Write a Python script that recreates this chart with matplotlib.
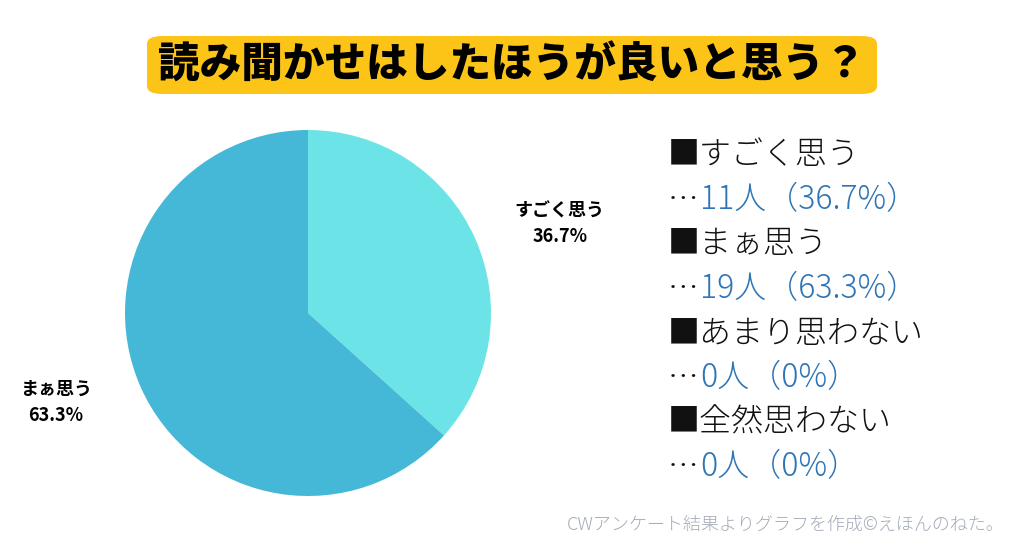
import numpy as np
import matplotlib.pyplot as plt
from matplotlib.patches import FancyBboxPatch

plt.rcParams['font.family'] = ['Noto Sans CJK JP', 'DejaVu Sans']

title = "読み聞かせはしたほうが良いと思う？"
categories = ["すごく思う", "まぁ思う", "あまり思わない", "全然思わない"]
counts = [11, 19, 0, 0]
percents = [36.7, 63.3, 0, 0]
slice_colors = ["#6ce4e7", "#46b8d7"]
footer = "CWアンケート結果よりグラフを作成©えほんのねた。"

fig = plt.figure(figsize=(10.24, 5.38), dpi=100)
fig.patch.set_facecolor("white")

# title box
box = FancyBboxPatch((147 / 1024, 1 - 94 / 538), (877 - 147) / 1024, 58 / 538,
                     boxstyle="round,pad=0,rounding_size=0.015",
                     transform=fig.transFigure, facecolor="#fdc418",
                     edgecolor="none")
fig.patches.append(box)
fig.text(512 / 1024, 1 - 66 / 538, title, ha="center", va="center",
         fontsize=30, fontweight="heavy", color="black")

# pie
cx, cy, r = 308, 313, 183
half = 200
ax = fig.add_axes([(cx - half) / 1024, (538 - cy - half) / 538,
                   2 * half / 1024, 2 * half / 538])
idx = [i for i in range(len(counts)) if counts[i] > 0]
vals = [counts[i] for i in idx]
wedges, _ = ax.pie(vals, colors=slice_colors, startangle=90, counterclock=False)
for w, i in zip(wedges, idx):
    ang = np.deg2rad((w.theta1 + w.theta2) / 2 - 4.5)
    ax.text(1.46 * np.cos(ang), 1.46 * np.sin(ang),
            f"{categories[i]}\n{percents[i]}%", ha="center", va="center",
            fontsize=13, fontweight="bold", linespacing=1.45)
lim = half / r
ax.set_xlim(-lim, lim)
ax.set_ylim(-lim, lim)
ax.axis("off")

# legend-like text list
y = 155
step = 44.6
for i, cat in enumerate(categories):
    fig.text(668 / 1024, 1 - y / 538, "■" + cat, ha="left", va="center",
             fontsize=23, fontweight="light", color="#111111")
    y += step
    fig.text(668 / 1024, 1 - y / 538, "…", ha="left", va="center",
             fontsize=22, fontweight="light", color="#111111")
    fig.text(700 / 1024, 1 - y / 538, f"{counts[i]}人（{percents[i]:g}%）",
             ha="left", va="center", fontsize=23, fontweight="light",
             color="#2e75b5")
    y += step

fig.text(1005 / 1024, 1 - 525 / 538, footer, ha="right", va="center",
         fontsize=13, fontweight="light", color="#a3aab8")

fig.savefig("out.png", dpi=100, facecolor="white")
